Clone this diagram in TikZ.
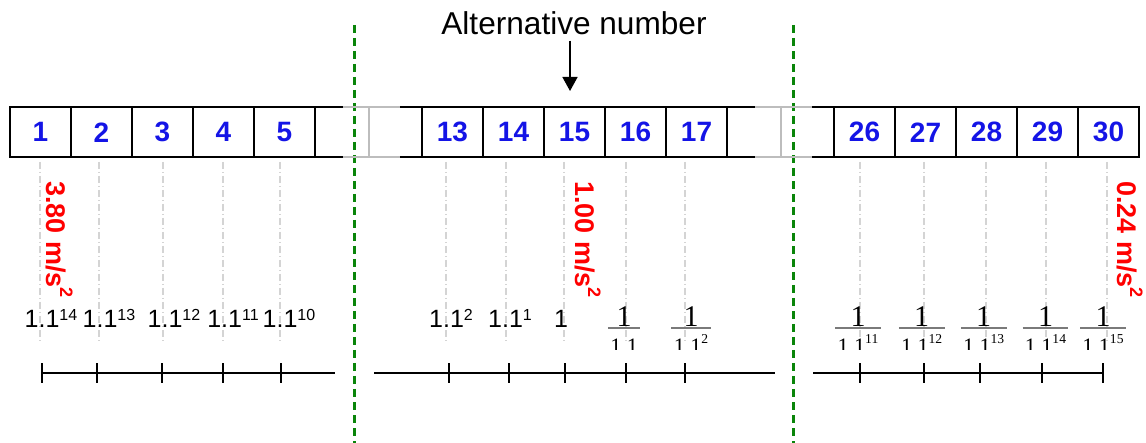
\documentclass[tikz,border=0pt]{standalone}
\usepackage{fontspec}
\setmainfont{Liberation Sans}
\newfontfamily\fracserif{Liberation Serif}
\usepackage{xcolor}
\definecolor{cellblue}{HTML}{1414E6}
\definecolor{accred}{HTML}{FF0000}
\definecolor{cutgreen}{HTML}{0A850A}
\definecolor{fadegray}{HTML}{BDBDBD}
\definecolor{guidegray}{HTML}{D4D4D4}
\definecolor{bargray}{HTML}{7A7A7A}
\usepackage{tikz}
\usetikzlibrary{arrows.meta,positioning,calc}
\newcommand{\pw}[1]{1.1\raisebox{3.6pt}{\fontsize{8}{8}\selectfont #1}}
\newcommand{\dpw}[1]{1.1\raisebox{5pt}{\fontsize{6.8}{6.8}\selectfont #1}}
\newcommand{\msq}{m/s\raisebox{6.5pt}{\fontsize{9}{9}\selectfont 2}}
\newcommand{\fadegap}[2]{%
  \draw[fadeline] ([xshift=14pt]#1.north east) -- ([xshift=-11pt]#2.north west)
    ([xshift=14pt]#1.south east) -- ([xshift=-11pt]#2.south west)
    ($(#1.north east)!0.5!(#2.north west)$) -- ($(#1.south east)!0.5!(#2.south west)$);
  \draw[cellline] (#1.north east) -- ++(14pt,0) (#1.south east) -- ++(14pt,0)
    (#2.north west) -- ++(-11pt,0) (#2.south west) -- ++(-11pt,0);
}

\begin{document}
\begin{tikzpicture}[x=0.5pt, y=-0.5pt,
  cell/.style={draw, line width=1pt, outer sep=0pt, inner sep=0pt,
    minimum width=30.5pt, minimum height=25.25pt,
    font=\bfseries\fontsize{14}{14}\selectfont, text=cellblue},
  cellline/.style={black, line width=1pt},
  fadeline/.style={fadegray, line width=1pt},
  accel/.style={rotate=-90, anchor=base west, inner sep=0pt, text=accred,
    font=\bfseries\fontsize{13.5}{13.5}\selectfont},
  val/.style={anchor=base, inner sep=0pt, font=\fontsize{12.5}{12.5}\selectfont},
  numr/.style={anchor=base, inner sep=0pt, font=\fracserif\fontsize{15}{15}\selectfont},
  denr/.style={anchor=base, inner sep=0pt, font=\fracserif\fontsize{11}{11}\selectfont},
  fracbar/.style={bargray, line width=1pt},
  guide/.style={guidegray, line width=0.8pt,
    dash pattern=on 3.5pt off 1.5pt on 0.5pt off 1.5pt},
  cut/.style={cutgreen, line width=1.1pt, dash pattern=on 4pt off 2.5pt},
  axis/.style={line width=1pt},
  arr/.style={-{Triangle[width=7.5pt,length=7pt]}, line width=0.75pt}]
\useasboundingbox (0,0) rectangle (1146,443);
% guides and section cuts
\foreach \gx in {40,99,163,223,280,446,506,564,626,685,860,924,986,1046,1107}
  \draw[guide] (\gx,162) -- (\gx,342);
\draw[cut] (354.5,25) -- (354.5,443);
\draw[cut] (793.5,25) -- (793.5,443);
% cells
\node[cell] (b1) at (40.5,132.25) {1};
\node[cell, right=0pt of b1] (b2) {2};
\node[cell, right=0pt of b2] (b3) {3};
\node[cell, right=0pt of b3] (b4) {4};
\node[cell, right=0pt of b4] (b5) {5};
\node[cell, right=53.5pt of b5] (b13) {13};
\node[cell, right=0pt of b13] (b14) {14};
\node[cell, right=0pt of b14] (b15) {15};
\node[cell, right=0pt of b15] (b16) {16};
\node[cell, right=0pt of b16] (b17) {17};
\node[cell, right=53.5pt of b17] (b26) {26};
\node[cell, right=0pt of b26] (b27) {27};
\node[cell, right=0pt of b27] (b28) {28};
\node[cell, right=0pt of b28] (b29) {29};
\node[cell, right=0pt of b29] (b30) {30};
\fadegap{b5}{b13}
\fadegap{b17}{b26}
% pointer
\node[anchor=base, inner sep=2.5pt, font=\fontsize{15.8}{16}\selectfont] (alt) at (574,35) {Alternative number};
\draw[arr, shorten >=8pt] ([xshift=-2pt]alt.south) -- ([xshift=-2.25pt]b15.north);
% accelerations
\node[accel] (g1) at (47,181) {3.80 \msq};
\node[accel] (g15) at (575,181) {1.00 \msq};
\node[accel] (g30) at (1117,181) {0.24 \msq};
% values
\node[val] (v1) at (51,328) {\pw{14}};
\node[val] (v2) at (109,328) {\pw{13}};
\node[val] (v3) at (174,328) {\pw{12}};
\node[val] (v4) at (233,328) {\pw{11}};
\node[val] (v5) at (289,328) {\pw{10}};
\node[val] (v13) at (451,328) {\pw{2}};
\node[val] (v14) at (510,328) {\pw{1}};
\node[val] (v15) at (561,328) {1};
\begin{scope}
\clip (0,0) rectangle (1146,349.5);
\foreach \fx/\fe [count=\i] in {624/{},691/2,858/11,921.7/12,983.7/13,1045.5/14,1103/15} {
  \node[numr] (n\i) at (\fx,326.7) {1};
  \node[denr] (d\i) at (\fx,353) {\dpw{\fe}};
  \draw[fracbar] ($(d\i.west |- n\i.base)+(-2,1.6)$) -- ($(d\i.east |- n\i.base)+(2,1.6)$);
}
\end{scope}
% axes
\draw[axis] (42,373) -- (335,373);
\draw[axis] (374,373) -- (775,373);
\draw[axis] (813,373) -- (1104,373);
\foreach \tx in {42,97,162,223,281,449,509,565,626,685,860,924,980,1042,1103}
  \draw[axis] (\tx,363) -- (\tx,383);
\end{tikzpicture}
\end{document}
